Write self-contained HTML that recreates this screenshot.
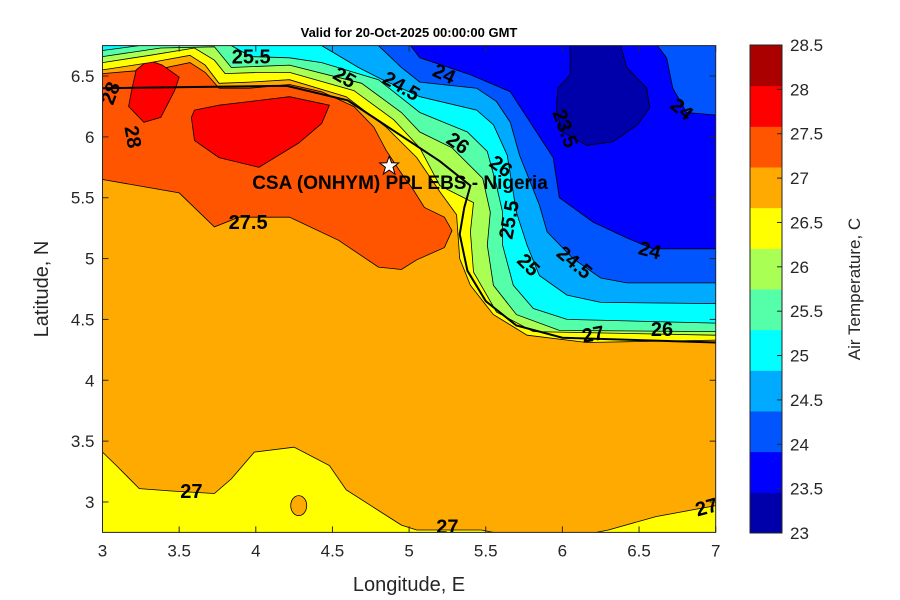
<!DOCTYPE html>
<html><head><meta charset="utf-8"><style>
body{margin:0;background:#fff;}
svg{display:block;font-family:"Liberation Sans",sans-serif;}
</style></head><body>
<svg id="chart" width="900" height="600" viewBox="0 0 900 600">
<defs><clipPath id="plotclip"><rect x="102.5" y="45.6" width="613.2" height="486.8"/></clipPath></defs>
<text x="409" y="37" text-anchor="middle" font-size="13" font-weight="bold">Valid for 20-Oct-2025 00:00:00 GMT</text>
<g id="plot" clip-path="url(#plotclip)"></g>
<g id="overlay"></g>
<g id="axes"></g>
</svg>
<script>
// axis extents
const lonMin = 3, lonMax = 7, latMin = 2.75, latMax = 6.75;
const xTicks = [3, 3.5, 4, 4.5, 5, 5.5, 6, 6.5, 7];
const yTicks = [3, 3.5, 4, 4.5, 5, 5.5, 6, 6.5];
const cbLevels = [23, 23.5, 24, 24.5, 25, 25.5, 26, 26.5, 27, 27.5, 28, 28.5];
const cbColors = ["#0000aa","#0000ff","#0055ff","#00aaff","#00ffff","#55ffaa","#aaff55","#ffff00","#ffaa00","#ff5500","#ff0000","#aa0000"];
// contour lines (lon, lat)
const c27Lon = [3.00,3.31,3.57,3.67,3.76,3.96,4.22,4.59,4.85,5.05,5.20,5.31,5.33,5.40,5.55,5.77,6.16,7.00];
const c27Lat = [6.55,6.61,6.67,6.59,6.44,6.45,6.47,6.33,6.08,5.83,5.55,5.36,5.00,4.78,4.54,4.37,4.31,4.33];
const c265Lon = [3.00,3.31,3.60,3.73,3.80,4.03,4.22,4.64,4.90,5.07,5.20,5.42,5.40,5.42,5.57,5.81,7.00];
const c265Lat = [6.61,6.67,6.73,6.63,6.52,6.53,6.53,6.38,6.14,5.91,5.60,5.46,5.22,4.89,4.56,4.40,4.37];
const c26Lon = [3.00,3.38,3.73,3.84,4.22,4.69,4.95,5.07,5.28,5.48,5.53,5.51,5.55,5.70,5.98,7.00];
const c26Lat = [6.66,6.73,6.74,6.57,6.59,6.44,6.20,6.04,5.91,5.66,5.38,5.11,4.78,4.54,4.41,4.40];
const c255Lon = [3.00,3.24,3.84,3.97,4.22,4.43,4.80,5.07,5.38,5.51,5.57,5.61,5.61,5.68,5.81,6.03,7.00];
const c255Lat = [6.71,6.75,6.75,6.66,6.65,6.61,6.47,6.20,6.04,5.88,5.60,5.38,5.11,4.78,4.59,4.50,4.47];
const c25Lon = [4.43,4.67,4.81,5.07,5.44,5.55,5.64,5.70,5.77,5.85,6.03,6.25,7.00];
const c25Lat = [6.75,6.57,6.48,6.33,6.22,6.10,5.85,5.38,5.11,4.86,4.70,4.64,4.63];
const c245Lon = [4.80,4.95,5.07,5.44,5.57,5.66,5.72,5.85,5.90,6.07,6.25,6.42,7.00];
const c245Lat = [6.75,6.57,6.45,6.40,6.29,6.12,5.85,5.44,5.22,5.00,4.84,4.80,4.80];
const c24Lon = [5.01,5.07,5.40,5.66,5.79,5.94,5.98,6.20,6.42,6.59,7.00];
const c24Lat = [6.75,6.65,6.51,6.37,6.12,5.83,5.50,5.30,5.17,5.08,5.08];
const c24bLon = [6.62,6.68,6.72,6.81,7.00];
const c24bLat = [6.75,6.65,6.40,6.20,6.18];
const c235Lon = [6.05,6.05,5.97,5.96,6.00,6.16,6.33,6.49,6.57,6.55,6.42,6.38];
const c235Lat = [6.75,6.51,6.40,6.22,6.04,5.93,5.96,6.10,6.24,6.40,6.57,6.75];
const c275Lon = [3.00,3.38,3.57,3.67,3.76,3.96,4.22,4.43,4.64,4.77,4.85,4.95,5.03,5.10,5.23,5.28,5.23,5.05,4.95,4.80,4.54,4.22,3.89,3.73,3.50,3.00];
const c275Lat = [6.52,6.56,6.61,6.53,6.40,6.40,6.43,6.37,6.25,6.08,5.89,5.70,5.56,5.42,5.34,5.23,5.09,4.99,4.91,4.93,5.15,5.34,5.34,5.26,5.54,5.65];
const c28aLon = [3.19,3.17,3.27,3.38,3.47,3.50,3.39,3.30,3.22];
const c28aLat = [6.38,6.25,6.12,6.16,6.38,6.49,6.59,6.63,6.55];
const c28bLon = [3.60,3.76,4.22,4.48,4.43,4.28,4.02,3.76,3.60,3.58];
const c28bLat = [6.22,6.26,6.33,6.26,6.11,5.95,5.75,5.83,5.97,6.16];
const s27aLon = [3.00,3.09,3.24,3.45,3.73,3.84,3.99,4.25,4.48,4.59,4.75,4.95,5.05,5.47,5.55];
const s27aLat = [3.41,3.30,3.11,3.09,3.07,3.19,3.41,3.45,3.30,3.10,2.97,2.81,2.77,2.77,2.75];
const s27bLon = [6.22,6.30,6.61,7.00];
const s27bLat = [2.75,2.77,2.88,2.97];
const blobLon = [4.28], blobLat = [2.97];
const coastLon = [3.00,3.60,4.20,4.60,4.90,5.20,5.40,5.36,5.33,5.38,5.50,5.70,6.00,6.50,7.00];
const coastLat = [6.40,6.41,6.42,6.30,6.05,5.80,5.60,5.42,5.20,4.90,4.65,4.45,4.35,4.33,4.31];
const siteLon = 4.87, siteLat = 5.76;
const labelText = ["25.5","25","24.5","24","24","23.5","28","27.5","26","26","25.5","25","24.5","24","26","27","27","27","27","28"];
const labelLon  = [3.97,4.58,4.95,5.23,6.78,6.02,3.2,3.95,5.32,5.6,5.65,5.78,6.08,6.57,6.65,3.58,5.25,6.94,6.2,3.05];
const labelLat  = [6.66,6.49,6.42,6.52,6.23,6.07,6.0,5.3,5.95,5.76,5.32,4.95,4.97,5.07,4.42,3.09,2.8,2.96,4.38,6.36];
const labelRot  = [0,30,30,25,40,70,80,0,35,35,-80,45,40,15,0,0,0,-15,-10,-70];

const X0=102.5, X1=715.7, Y0=532.4, Y1=45.6;
const xs = v => X0 + (v - lonMin) / (lonMax - lonMin) * (X1 - X0);
const ys = v => Y0 - (v - latMin) / (latMax - latMin) * (Y0 - Y1);
const NS = "http://www.w3.org/2000/svg";
const plot = document.getElementById('plot');
const overlay = document.getElementById('overlay');
const axes = document.getElementById('axes');
function mk(tag, attrs, parent){const e=document.createElementNS(NS,tag);for(const k in attrs)e.setAttribute(k,attrs[k]);parent.appendChild(e);return e;}
function pts(lons,lats){return lons.map((l,i)=>xs(l).toFixed(1)+','+ys(lats[i]).toFixed(1));}

let base = mk('rect',{x:X0,y:Y1,width:X1-X0,height:Y0-Y1,fill:cbColors[8]},plot);



function region(lons,lats,extra,color,name){
  const p = pts(lons,lats).concat(extra.map(c=>xs(c[0]).toFixed(1)+','+ys(c[1]).toFixed(1)));
  const e = mk('polygon',{points:p.join(' '),fill:color,stroke:'none'},plot);
  
  
  const l = mk('polyline',{points:pts(lons,lats).join(' '),fill:'none',stroke:'#000','stroke-width':0.8},plot);
  
  
}
function closed(lons,lats,color,name){
  const e = mk('polygon',{points:pts(lons,lats).join(' '),fill:color,stroke:'#000','stroke-width':0.8},plot);
  
  
}
const NE=[[7,6.75],[3,6.75]];
closed(c275Lon,c275Lat,cbColors[9],'band-27.5-28');
closed(c28aLon,c28aLat,cbColors[10],'band-28-west');
closed(c28bLon,c28bLat,cbColors[10],'band-28-central');
region(s27aLon,s27aLat,[[3,2.75]],cbColors[7],'band-26.5-27-south');
region(s27bLon,s27bLat,[[7,2.75]],cbColors[7],'band-26.5-27-southeast');
region(c27Lon,c27Lat,NE,cbColors[7],'band-26.5-27');
region(c265Lon,c265Lat,NE,cbColors[6],'band-26-26.5');
region(c26Lon,c26Lat,NE,cbColors[5],'band-25.5-26');
region(c255Lon,c255Lat,NE,cbColors[4],'band-25-25.5');
region(c25Lon,c25Lat,[[7,6.75]],cbColors[3],'band-24.5-25');
region(c245Lon,c245Lat,[[7,6.75]],cbColors[2],'band-24-24.5');
region(c24Lon,c24Lat,[[7,6.75]],cbColors[1],'band-23.5-24');
region(c24bLon,c24bLat,[[7,6.75]],cbColors[2],'band-24-24.5-northeast');
region(c235Lon,c235Lat,[],cbColors[0],'band-23-23.5');
blobLon.forEach((l,i)=>{
  const e = mk('ellipse',{cx:xs(l),cy:ys(blobLat[i]),rx:8,ry:10,fill:cbColors[8],stroke:'#000','stroke-width':0.8},plot);
  
  
});
const cl = mk('polyline',{points:pts(coastLon,coastLat).join(' '),fill:'none',stroke:'#000','stroke-width':2},plot);


labelText.forEach((t,i)=>{
  const x=xs(labelLon[i]), y=ys(labelLat[i]);
  const e = mk('text',{x:x,y:y+7,'text-anchor':'middle','font-size':20,'font-weight':'bold',transform:`rotate(${labelRot[i]} ${x} ${y})`},plot);
  e.textContent=t;
  
  
});
const sx=xs(siteLon), sy=ys(siteLat);
let star=[];for(let k=0;k<10;k++){const r=k%2?4:10;const a=-Math.PI/2+k*Math.PI/5;star.push((sx+r*Math.cos(a)).toFixed(1)+','+(sy+r*Math.sin(a)).toFixed(1));}
const st = mk('polygon',{points:star.join(' '),fill:'#fff',stroke:'#000','stroke-width':1},overlay);


const sl = mk('text',{x:400,y:189,'text-anchor':'middle','font-size':19,'font-weight':'bold'},overlay);
sl.textContent='CSA (ONHYM) PPL EBS - Nigeria';



const box = mk('rect',{x:X0,y:Y1,width:X1-X0,height:Y0-Y1,fill:'none',stroke:'#262626','stroke-width':1},axes);


xTicks.forEach(t=>{
  const x=xs(t);
  mk('line',{x1:x,x2:x,y1:Y0,y2:Y0-6,stroke:'#262626'},axes);
  mk('line',{x1:x,x2:x,y1:Y1,y2:Y1+6,stroke:'#262626'},axes);
  const e=mk('text',{x:x,y:Y0+24,'text-anchor':'middle','font-size':17,fill:'#262626'},axes);
  e.textContent=String(t);
  
  
});
yTicks.forEach(t=>{
  const y=ys(t);
  mk('line',{x1:X0,x2:X0+6,y1:y,y2:y,stroke:'#262626'},axes);
  mk('line',{x1:X1,x2:X1-6,y1:y,y2:y,stroke:'#262626'},axes);
  const e=mk('text',{x:X0-8,y:y+6,'text-anchor':'end','font-size':17,fill:'#262626'},axes);
  e.textContent=String(t);
  
  
});
const xl=mk('text',{x:409,y:591,'text-anchor':'middle','font-size':20,fill:'#262626'},axes);
xl.textContent='Longitude, E';


const yl=mk('text',{x:48,y:289,'text-anchor':'middle','font-size':20,fill:'#262626',transform:'rotate(-90 48 289)'},axes);
yl.textContent='Latitude, N';



// colorbar: 12 colours spread evenly over the full bar
const CB0=533, CB1=45, CBX=750, CBW=32;
const cy = v => CB0 - (v - cbLevels[0]) / (cbLevels[cbLevels.length-1]-cbLevels[0]) * (CB0-CB1);
const sw = (CB0-CB1)/cbColors.length;
cbColors.forEach((c,i)=>{
  const e=mk('rect',{x:CBX,y:CB0-(i+1)*sw,width:CBW,height:sw+0.5,fill:c},axes);
  
  
});
const cbb=mk('rect',{x:CBX,y:CB1,width:CBW,height:CB0-CB1,fill:'none',stroke:'#262626'},axes);


cbLevels.forEach(v=>{
  const y=cy(v);
  mk('line',{x1:CBX+CBW,x2:CBX+CBW-5,y1:y,y2:y,stroke:'#262626'},axes);
  const e=mk('text',{x:CBX+CBW+8,y:y+6,'font-size':17,fill:'#262626'},axes);
  e.textContent=String(v);
  
  
});
const ct=mk('text',{x:860,y:289,'text-anchor':'middle','font-size':17,fill:'#262626',transform:'rotate(-90 860 289)'},axes);
ct.textContent='Air Temperature, C';


</script>
</body></html>
